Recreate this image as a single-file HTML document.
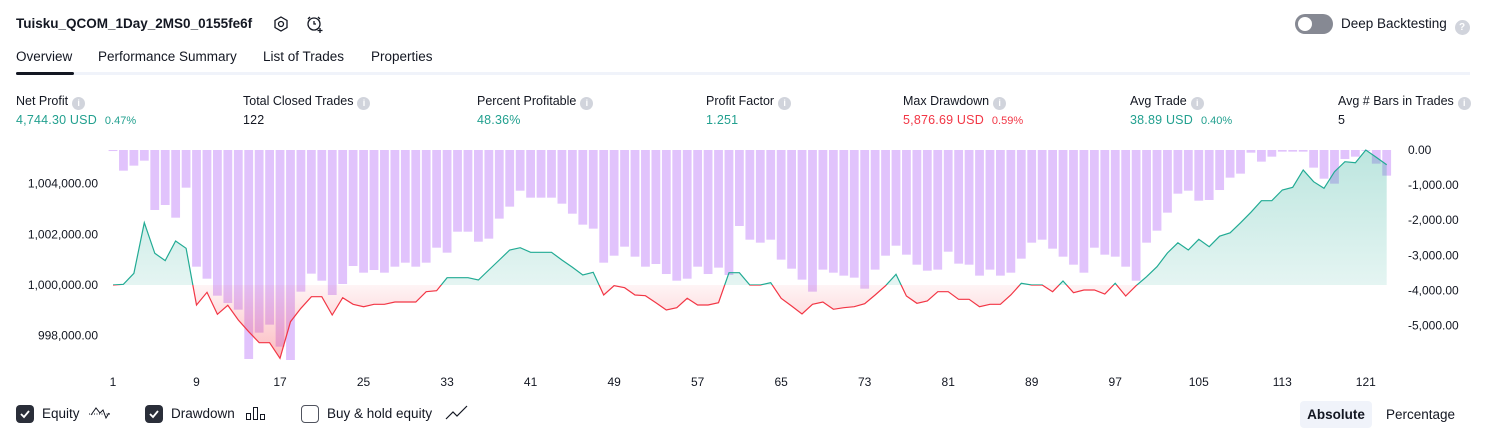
<!DOCTYPE html>
<html><head><meta charset="utf-8">
<style>
*{margin:0;padding:0;box-sizing:border-box}
body{width:1486px;height:438px;background:#fff;font-family:"Liberation Sans",sans-serif;color:#131722;position:relative;overflow:hidden}
.abs{position:absolute;white-space:nowrap}
.title{left:16px;top:16px;font-size:13.5px;font-weight:bold}
.tab{top:49px;font-size:13.5px;color:#131722}
.lbl{top:94px;font-size:12.5px;color:#131722}
.val{top:113px;font-size:12.5px;letter-spacing:0.2px}
.info{display:inline-block;width:13px;height:13px;border-radius:50%;background:#d1d4dc;color:#fff;font-size:9px;text-align:center;line-height:13px;font-weight:bold;vertical-align:-1px;margin-left:4px}
.g{color:#22a08f}.r{color:#f23645}
.pct{font-size:11px;margin-left:8px;letter-spacing:0}
.cb{width:18px;height:18px;border-radius:4px;top:405px}
.cbt{top:406px;font-size:13.5px}
</style></head><body>
<div class="abs title">Tuisku_QCOM_1Day_2MS0_0155fe6f</div>
<svg class="abs" style="left:272px;top:15px" width="18" height="18"><polygon points="9,2 15,5.5 15,12.5 9,16 3,12.5 3,5.5" fill="none" stroke="#131722" stroke-width="1.3"/><circle cx="9" cy="9" r="2.5" fill="none" stroke="#131722" stroke-width="1.3"/></svg>
<svg class="abs" style="left:305px;top:14px" width="20" height="20"><circle cx="9" cy="10" r="6" fill="none" stroke="#131722" stroke-width="1.3"/><path d="M9 7v3h2M3 5l2-2M15 5l-2-2M15 14v5M12.5 16.5h5" stroke="#131722" stroke-width="1.3" fill="none"/></svg>
<div class="abs" style="left:1295px;top:14px;width:38px;height:20px;border-radius:10px;background:#868993"><div style="position:absolute;left:3px;top:3px;width:14px;height:14px;border-radius:50%;background:#fff"></div></div>
<div class="abs" style="left:1341px;top:16px;font-size:13.5px">Deep Backtesting <span class="info" style="width:15px;height:15px;line-height:15px;font-size:10px;vertical-align:-2px">?</span></div>

<div class="abs tab" style="left:16px">Overview</div>
<div class="abs tab" style="left:98px">Performance Summary</div>
<div class="abs tab" style="left:263px">List of Trades</div>
<div class="abs tab" style="left:371px">Properties</div>
<div class="abs" style="left:16px;top:72px;width:1454px;height:3px;background:#f0f3fa"></div>
<div class="abs" style="left:16px;top:72px;width:58px;height:3px;border-radius:2px;background:#131722"></div>

<div class="abs lbl" style="left:16px">Net Profit<span class="info">i</span></div>
<div class="abs val g" style="left:16px">4,744.30 USD<span class="pct">0.47%</span></div>
<div class="abs lbl" style="left:243px">Total Closed Trades<span class="info">i</span></div>
<div class="abs val" style="left:243px">122</div>
<div class="abs lbl" style="left:477px">Percent Profitable<span class="info">i</span></div>
<div class="abs val g" style="left:477px">48.36%</div>
<div class="abs lbl" style="left:706px">Profit Factor<span class="info">i</span></div>
<div class="abs val g" style="left:706px">1.251</div>
<div class="abs lbl" style="left:903px">Max Drawdown<span class="info">i</span></div>
<div class="abs val r" style="left:903px">5,876.69 USD<span class="pct">0.59%</span></div>
<div class="abs lbl" style="left:1130px">Avg Trade<span class="info">i</span></div>
<div class="abs val g" style="left:1130px">38.89 USD<span class="pct">0.40%</span></div>
<div class="abs lbl" style="left:1338px">Avg # Bars in Trades<span class="info">i</span></div>
<div class="abs val" style="left:1338px">5</div>

<svg id="chart" class="abs" style="left:0;top:0" width="1486" height="395">
<defs>
<linearGradient id="gg" x1="0" y1="150" x2="0" y2="285" gradientUnits="userSpaceOnUse"><stop offset="0" stop-color="#22ab94" stop-opacity="0.3"/><stop offset="1" stop-color="#22ab94" stop-opacity="0.12"/></linearGradient>
<linearGradient id="rg" x1="0" y1="285" x2="0" y2="360" gradientUnits="userSpaceOnUse"><stop offset="0" stop-color="#f7525f" stop-opacity="0.06"/><stop offset="1" stop-color="#f7525f" stop-opacity="0.4"/></linearGradient>
<clipPath id="above"><rect x="0" y="0" width="1486" height="285"/></clipPath>
<clipPath id="below"><rect x="0" y="285" width="1486" height="200"/></clipPath>
</defs>
<g id="bars"></g><g id="areas"></g><g id="axes"></g>
</svg>

<div class="abs cb" style="left:16px;background:#2a2e39"><svg width="18" height="18"><path d="M5 9l3 3 5-6" stroke="#fff" stroke-width="1.8" fill="none"/></svg></div>
<div class="abs cbt" style="left:42px">Equity</div>
<svg class="abs" style="left:88px;top:404px" width="24" height="18"><path d="M1 10h22" stroke="#131722" stroke-dasharray="1 1.5" stroke-width="1"/><path d="M3 11l5-7 4 5 3-3 3 8 3-5" stroke="#131722" stroke-width="1" fill="none"/></svg>
<div class="abs cb" style="left:145px;background:#2a2e39"><svg width="18" height="18"><path d="M5 9l3 3 5-6" stroke="#fff" stroke-width="1.8" fill="none"/></svg></div>
<div class="abs cbt" style="left:171px">Drawdown</div>
<svg class="abs" style="left:245px;top:405px" width="22" height="16"><rect x="1.5" y="8.5" width="4" height="6" fill="none" stroke="#131722"/><rect x="8.5" y="2.5" width="4" height="12" fill="none" stroke="#131722"/><rect x="15.5" y="9.5" width="4" height="5" fill="none" stroke="#131722"/></svg>
<div class="abs cb" style="left:301px;border:1.3px solid #50535e"></div>
<div class="abs cbt" style="left:327px">Buy &amp; hold equity</div>
<svg class="abs" style="left:445px;top:405px" width="24" height="16"><path d="M1 14l7-7 4 4 10-10" stroke="#131722" stroke-width="1.2" fill="none"/></svg>
<div class="abs" style="left:1300px;top:401px;width:72px;height:27px;border-radius:4px;background:#f0f3fa;font-size:13.5px;font-weight:bold;text-align:center;line-height:27px">Absolute</div>
<div class="abs" style="left:1386px;top:407px;font-size:13.5px">Percentage</div>

<script>
const equity=[1000000,1000028,1000462,1002460,1001250,1000965,1001737,1001449,999210,999712,998843,999199,998618,998156,997722,997722,997106,998551,999080,999538,999538,998816,999499,999238,999143,999238,999238,999329,999329,999329,999735,999775,1000288,1000288,1000288,1000197,1000592,1000987,1001382,1001473,1001291,1001291,1001291,1000987,1000698,1000395,1000501,999605,999972,999893,999605,999578,999301,999013,999104,999475,999210,999210,999301,1000486,1000486,1000000,1000000,1000091,999475,999171,998855,999238,999329,999041,999104,999143,999262,999605,999972,1000422,999566,999278,999368,999735,999735,999435,999435,999143,999238,999238,999605,1000067,1000000,1000000,999735,1000158,999696,999803,999803,999645,1000067,999566,999972,1000328,1000722,1001263,1001666,1001382,1001804,1001512,1001927,1002061,1002456,1002874,1003328,1003328,1003751,1003857,1004540,1004078,1003817,1004473,1004868,1004829,1005330,1005041,1004744];
const drawdown=[-30,-589,-446,-304,-1709,-1567,-1928,-1073,-3324,-3666,-4150,-4359,-4549,-5954,-5204,-4976,-5603,-5983,-4036,-3523,-3723,-4131,-3818,-3305,-3495,-3419,-3495,-3324,-3210,-3324,-3210,-2783,-2925,-2327,-2327,-2612,-2526,-1956,-1614,-1159,-1358,-1358,-1358,-1529,-1814,-2127,-2241,-3210,-3011,-2754,-3039,-3324,-3248,-3533,-3723,-3666,-3324,-3533,-3352,-3561,-2165,-2555,-2640,-2555,-3124,-3381,-3694,-4036,-3409,-3495,-3580,-3637,-3951,-3409,-3011,-2726,-2982,-3267,-3438,-3409,-2897,-3238,-3267,-3580,-3409,-3580,-3495,-3096,-2640,-2555,-2811,-3039,-3267,-3495,-2783,-2982,-3039,-3324,-3723,-2640,-2298,-1785,-1244,-1159,-1444,-1424,-1140,-788,-674,-76,-332,-190,-47,-47,-47,-503,-817,-959,-256,-190,0,-389,-731];
const xTicks=[1,9,17,25,33,41,49,57,65,73,81,89,97,105,113,121];
const leftTicks=[998000,1000000,1002000,1004000];
const rightTicks=[0,-1000,-2000,-3000,-4000,-5000];

const NS="http://www.w3.org/2000/svg";
const xS=i=>113+i*10.44;
const xT=t=>113+(t-1)*10.44;
const yL=v=>285-(v-1000000)*0.02533;
const yR=v=>150-v*0.0351;
function mk(tag,attrs,parent){const e=document.createElementNS(NS,tag);for(const k in attrs)e.setAttribute(k,attrs[k]);parent.appendChild(e);return e;}
const gb=document.getElementById('bars'),ga=document.getElementById('areas'),gx=document.getElementById('axes');

drawdown.forEach((d,i)=>{
  const y0=yR(0),y1=yR(d);
  const r=mk('rect',{x:xS(i)-4.4,y:y0,width:8.8,height:Math.max(y1-y0,0.8),fill:'#e1c3fc'},gb);
  
  
});

let pts=equity.map((v,i)=>xS(i).toFixed(1)+','+yL(v).toFixed(1)).join(' ');
const base=yL(1000000);
const areaPts=xS(0)+','+base+' '+pts+' '+xS(equity.length-1)+','+base;
const ag=mk('polygon',{points:areaPts,fill:'url(#gg)','clip-path':'url(#above)'},ga);


const ar=mk('polygon',{points:areaPts,fill:'url(#rg)','clip-path':'url(#below)'},ga);


const lg=mk('polyline',{points:pts,fill:'none',stroke:'#22ab94','stroke-width':1.2,'clip-path':'url(#above)'},ga);


const lr=mk('polyline',{points:pts,fill:'none',stroke:'#f23645','stroke-width':1.2,'clip-path':'url(#below)'},ga);



const fmt=(v)=>v.toLocaleString('en-US',{minimumFractionDigits:2,maximumFractionDigits:2});
leftTicks.forEach(v=>{
  const t=mk('text',{x:98,y:yL(v)+4,'text-anchor':'end','font-size':12,fill:'#131722','font-family':'Liberation Sans, sans-serif'},gx);
  t.textContent=fmt(v);
  
  
});
rightTicks.forEach(v=>{
  const t=mk('text',{x:1408,y:yR(v)+4,'font-size':12,fill:'#131722','font-family':'Liberation Sans, sans-serif'},gx);
  t.textContent=(v<0?'-':'')+fmt(Math.abs(v));
  
  
});
xTicks.forEach(v=>{
  const t=mk('text',{x:xT(v),y:386,'text-anchor':'middle','font-size':12,fill:'#131722','font-family':'Liberation Sans, sans-serif'},gx);
  t.textContent=v;
  
  
});
</script>
</body></html>
